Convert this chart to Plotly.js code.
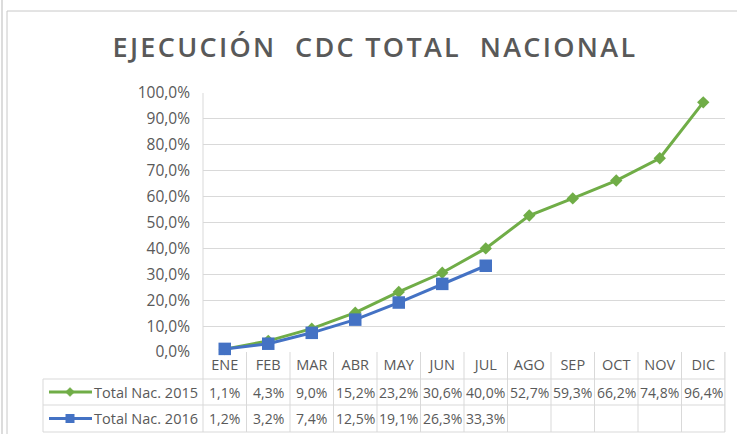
<!DOCTYPE html>
<html>
<head>
<meta charset="utf-8">
<script src="https://cdn.plot.ly/plotly-3.0.1.min.js"></script>
<style>
  html, body { margin: 0; padding: 0; background: #fff; }
  #chart { width: 737px; height: 434px; }
  .gtitle { letter-spacing: 2.3px; }
</style>
</head>
<body>
<div id="chart"></div>
<script>
// ---- data ----
const months = ["ENE","FEB","MAR","ABR","MAY","JUN","JUL","AGO","SEP","OCT","NOV","DIC"];
const seriesNames = ["Total Nac. 2015", "Total Nac. 2016"];
const values2015 = [1.1, 4.3, 9.0, 15.2, 23.2, 30.6, 40.0, 52.7, 59.3, 66.2, 74.8, 96.4];
const values2016 = [1.2, 3.2, 7.4, 12.5, 19.1, 26.3, 33.3];
const yTicks = [0, 10, 20, 30, 40, 50, 60, 70, 80, 90, 100];

// ---- style ----
const green = "#70ad47";
const blue = "#4472c4";
const textColor = "#595959";
const gridColor = "#d9d9d9";
const FONT = "Open Sans, Liberation Sans, Arial, sans-serif";
const W = 737, H = 434;
const M = { l: 203, r: 12, t: 93, b: 82 };
const plotW = W - M.l - M.r, plotH = H - M.t - M.b;
const py = (p) => (H - M.b - p) / plotH;   // pixel y -> paper y
const px = (p) => (p - M.l) / plotW;       // pixel x -> paper x
const fmt = (v) => v.toFixed(1).replace(".", ",") + "%";

const traces = [
  { x: months, y: values2015, name: seriesNames[0], type: "scatter", mode: "lines+markers",
    line: { color: green, width: 3 }, marker: { symbol: "diamond", size: 9.5, color: green },
    cliponaxis: false },
  { x: months.slice(0, values2016.length), y: values2016, name: seriesNames[1], type: "scatter",
    mode: "lines+markers", line: { color: blue, width: 3 },
    marker: { symbol: "square", size: 12.5, color: blue }, cliponaxis: false }
];

// table rows (paper y)
const rowEdges = [py(379), py(405), py(432)];
const rowCenters = [py(392), py(418.5)];
const tableSeries = [values2015, values2016];
const seriesColors = [green, blue];

const shapes = [];
// outer chart frame
shapes.push({ type: "line", xref: "paper", yref: "paper", x0: px(7), x1: px(7), y0: py(11), y1: py(440),
  line: { color: "#c8c8c8", width: 1 } });
shapes.push({ type: "line", xref: "paper", yref: "paper", x0: px(7), x1: px(745), y0: py(11), y1: py(11),
  line: { color: "#c8c8c8", width: 1 } });
shapes.push({ type: "line", xref: "paper", yref: "paper", x0: px(2), x1: px(2), y0: py(0), y1: py(440),
  line: { color: "#d0d0d0", width: 1.5 } });
// left plot border line
shapes.push({ type: "line", xref: "paper", yref: "paper", x0: 0, x1: 0, y0: 1, y1: rowEdges[2],
  line: { color: gridColor, width: 1 } });
// vertical column separators in table
for (let i = 0; i < months.length; i++) {
  shapes.push({ type: "line", xref: "x", yref: "paper", x0: i + 0.5, x1: i + 0.5, y0: 0, y1: rowEdges[2],
    line: { color: gridColor, width: 1 } });
}
shapes.push({ type: "line", xref: "paper", yref: "paper", x0: 1, x1: 1, y0: 0, y1: rowEdges[2],
  line: { color: gridColor, width: 1 } });
// left table border
shapes.push({ type: "line", xref: "paper", yref: "paper", x0: px(43), x1: px(43), y0: rowEdges[0], y1: rowEdges[2],
  line: { color: gridColor, width: 1 } });
// horizontal table lines
rowEdges.forEach(y => shapes.push({ type: "line", xref: "paper", yref: "paper", x0: px(43), x1: 1, y0: y, y1: y,
  line: { color: gridColor, width: 1 } }));
// legend keys
const keyCx = 70;
rowCenters.forEach((yc, r) => {
  shapes.push({ type: "line", xref: "paper", yref: "paper", x0: px(49), x1: px(92), y0: yc, y1: yc,
    line: { color: seriesColors[r], width: 3 } });
  if (r === 0) {
    const d = 4.5;
    shapes.push({ type: "path", xref: "paper", yref: "paper",
      path: `M ${px(keyCx - d)} ${yc} L ${px(keyCx)} ${yc + d / plotH} L ${px(keyCx + d)} ${yc} L ${px(keyCx)} ${yc - d / plotH} Z`,
      fillcolor: green, line: { color: green, width: 0.5 } });
  } else {
    const d = 4.5;
    shapes.push({ type: "rect", xref: "paper", yref: "paper",
      x0: px(keyCx - d), x1: px(keyCx + d), y0: yc - d / plotH, y1: yc + d / plotH,
      fillcolor: blue, line: { color: blue, width: 0 } });
  }
});

const annotations = [];
tableSeries.forEach((vals, r) => {
  annotations.push({ xref: "paper", yref: "paper", x: px(92), y: rowCenters[r], xanchor: "left", yanchor: "middle",
    text: seriesNames[r], showarrow: false, font: { family: FONT, size: 14.5, color: textColor } });
  vals.forEach((v, i) => {
    annotations.push({ xref: "x", yref: "paper", x: months[i], y: rowCenters[r], xanchor: "center", yanchor: "middle",
      text: fmt(v), showarrow: false, font: { family: FONT, size: 14, color: textColor } });
  });
});

const layout = {
  width: W, height: H,
  margin: M,
  paper_bgcolor: "#ffffff", plot_bgcolor: "#ffffff",
  separators: ",.",
  showlegend: false,
  title: { text: "EJECUCIÓN  CDC TOTAL  NACIONAL", x: 375 / W, xanchor: "center", xref: "container",
    y: 1 - 48 / H, yref: "container", yanchor: "middle",
    font: { family: FONT, size: 27, weight: 600, color: textColor } },
  xaxis: { type: "category", categoryorder: "array", categoryarray: months, range: [-0.5, 11.5],
    showgrid: false, zeroline: false, showline: false, ticks: "", ticklabelstandoff: 2,
    tickfont: { family: FONT, size: 14.5, color: textColor }, fixedrange: true },
  yaxis: { range: [0, 100], tickvals: yTicks, ticktext: yTicks.map(fmt), showgrid: true, gridcolor: gridColor,
    gridwidth: 1, zeroline: false, showline: false, ticks: "", ticklabelstandoff: 12,
    tickfont: { family: FONT, size: 15.5, color: textColor }, fixedrange: true },
  shapes: shapes,
  annotations: annotations
};

Plotly.newPlot("chart", traces, layout, { displayModeBar: false, staticPlot: true });
</script>
</body>
</html>
